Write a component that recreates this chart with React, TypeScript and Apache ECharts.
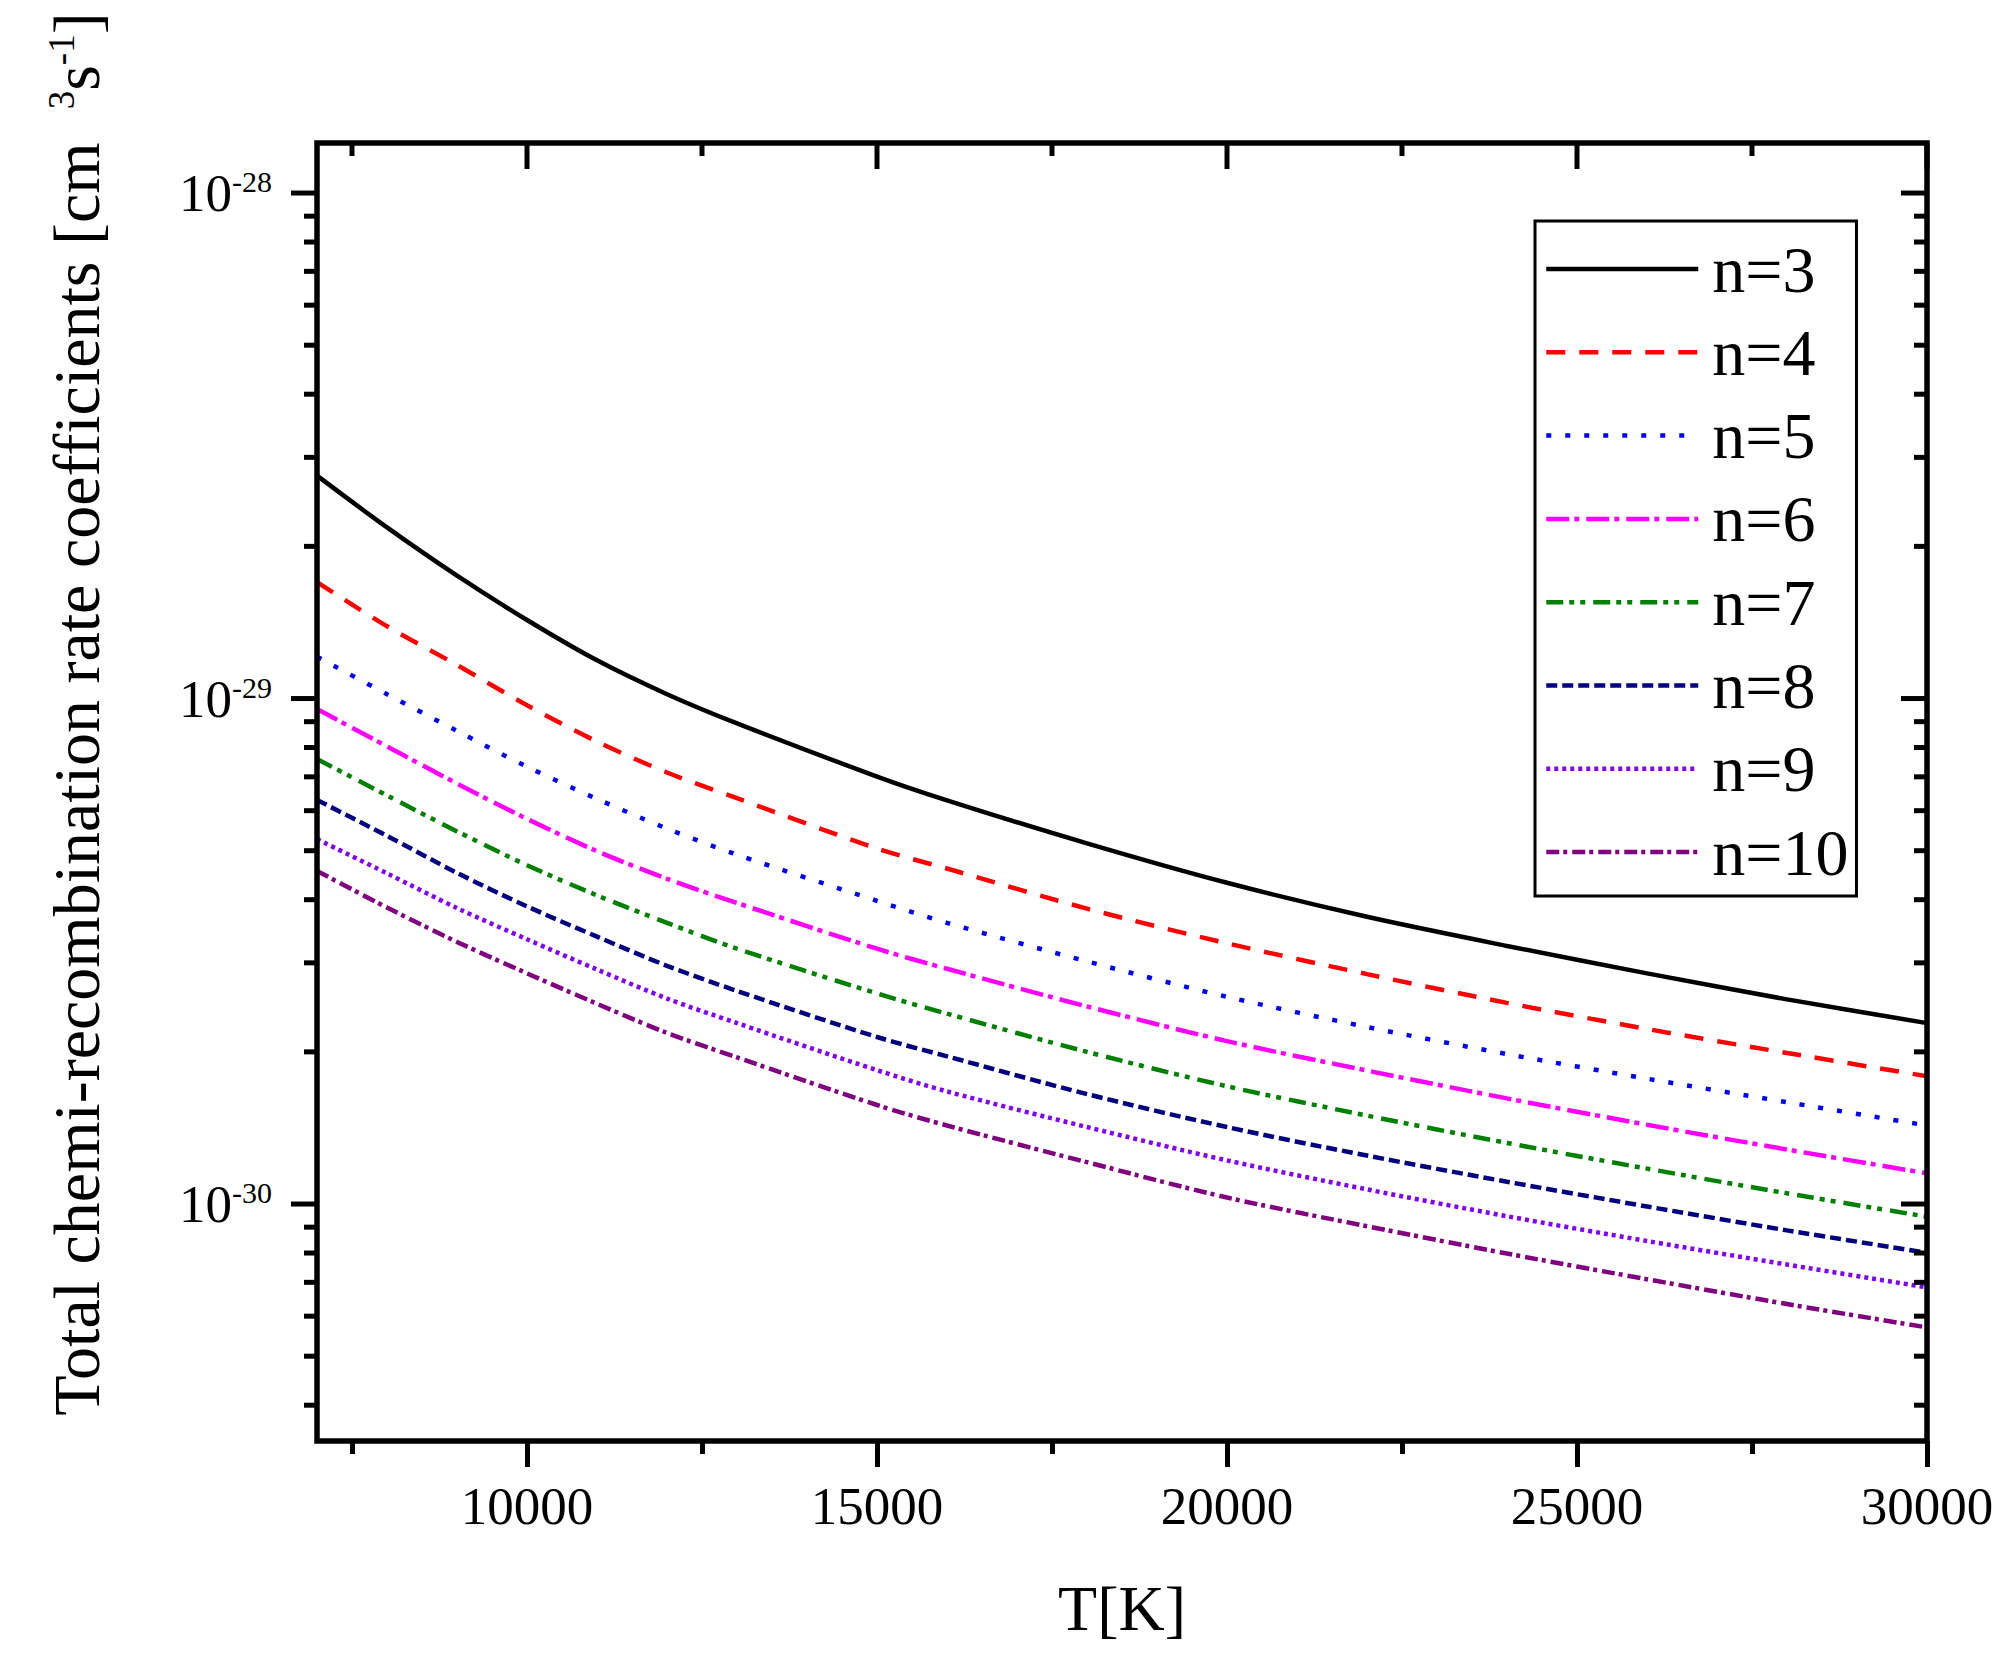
import React, { useEffect, useRef } from 'react';
import * as echarts from 'echarts';

// Temperatures (K)
const temperatures = [7000, 8000, 9000, 10000, 11000, 12000, 13000, 15000, 16000, 18000, 20000, 22000, 24000, 26000, 28000, 30000];

// Total chemi-recombination rate coefficients [cm^3 s^-1]
const n3 = [2.76e-29, 2.18e-29, 1.75e-29, 1.43e-29, 1.19e-29, 1.02e-29, 8.93e-30, 7.01e-30, 6.29e-30, 5.17e-30, 4.32e-30, 3.70e-30, 3.24e-30, 2.86e-30, 2.54e-30, 2.28e-30];
const n4 = [1.70e-29, 1.39e-29, 1.165e-29, 9.70e-30, 8.22e-30, 7.14e-30, 6.35e-30, 5.05e-30, 4.61e-30, 3.84e-30, 3.28e-30, 2.85e-30, 2.50e-30, 2.22e-30, 1.99e-30, 1.79e-30];
const n5 = [1.21e-29, 1.02e-29, 8.63e-30, 7.33e-30, 6.33e-30, 5.53e-30, 4.91e-30, 3.98e-30, 3.60e-30, 3.02e-30, 2.57e-30, 2.24e-30, 1.98e-30, 1.77e-30, 1.59e-30, 1.43e-30];
const n6 = [9.53e-30, 8.04e-30, 6.79e-30, 5.78e-30, 4.99e-30, 4.40e-30, 3.94e-30, 3.20e-30, 2.92e-30, 2.46e-30, 2.10e-30, 1.837e-30, 1.618e-30, 1.435e-30, 1.282e-30, 1.15e-30];
const n7 = [7.59e-30, 6.43e-30, 5.46e-30, 4.68e-30, 4.08e-30, 3.60e-30, 3.20e-30, 2.61e-30, 2.38e-30, 2.00e-30, 1.71e-30, 1.496e-30, 1.321e-30, 1.175e-30, 1.05e-30, 9.44e-31];
const n8 = [6.30e-30, 5.35e-30, 4.52e-30, 3.88e-30, 3.38e-30, 2.96e-30, 2.64e-30, 2.14e-30, 1.96e-30, 1.65e-30, 1.42e-30, 1.247e-30, 1.107e-30, 9.89e-31, 8.87e-31, 8.01e-31];
const n9 = [5.27e-30, 4.51e-30, 3.85e-30, 3.34e-30, 2.91e-30, 2.55e-30, 2.28e-30, 1.84e-30, 1.67e-30, 1.42e-30, 1.22e-30, 1.069e-30, 9.46e-31, 8.45e-31, 7.59e-31, 6.84e-31];
const n10 = [4.56e-30, 3.86e-30, 3.30e-30, 2.86e-30, 2.49e-30, 2.18e-30, 1.95e-30, 1.57e-30, 1.43e-30, 1.21e-30, 1.03e-30, 9.04e-31, 7.98e-31, 7.10e-31, 6.34e-31, 5.70e-31];

const seriesNames = ['n=3', 'n=4', 'n=5', 'n=6', 'n=7', 'n=8', 'n=9', 'n=10'];
const seriesValues = [n3, n4, n5, n6, n7, n8, n9, n10];
const seriesColors = ['#000000', '#FF0000', '#0000FF', '#FF00FF', '#008000', '#000080', '#8000FF', '#800080'];
const seriesDashes: any[] = [
  'solid',
  [19, 14],
  [5, 14],
  [23, 5, 5, 7],
  [17, 6, 5, 6, 5, 8],
  [11, 5],
  [4, 4],
  [13, 4, 4, 5],
];

// Axis ranges and ticks
const xMin = 7000;
const xMax = 30000;
const xMajorTicks = [10000, 15000, 20000, 25000, 30000];
const xMinorTicks = [7500, 12500, 17500, 22500, 27500];
const yMin = 3.398e-31;
const yMax = 1.256e-28;
const yTickExponents = [-30, -29, -28];
const yMajorTicks = yTickExponents.map((e) => Number('1e' + e));
const yMinorMantissas = [2, 3, 4, 5, 6, 7, 8, 9];
const yMinorExponents = [-31, -30, -29, -28];
const yMinorTicks: number[] = [];
yMinorExponents.forEach((e) => yMinorMantissas.forEach((m) => {
  const v = Number(m + 'e' + e);
  if (v >= yMin && v <= yMax) yMinorTicks.push(v);
}));

const FONT = '"Liberation Serif", "Times New Roman", serif';

// kind: 0 = y major, 1 = y minor, 2 = top x major, 3 = top x minor
const frameTicks: number[][] = [
  ...yMajorTicks.map((v) => [xMin, v, 0]),
  ...yMinorTicks.map((v) => [xMin, v, 1]),
  ...xMajorTicks.map((x) => [x, yMax, 2]),
  ...xMinorTicks.map((x) => [x, yMax, 3]),
];

export default function App() {
  const ref = useRef<HTMLDivElement>(null);
  useEffect(() => {
    if (!ref.current) return;
    const chart = echarts.init(ref.current, undefined, { renderer: 'svg' });
    const tickStyle = { color: '#000', width: 5 };
    const majorLen = 26;
    const minorLen = 13;
    const tickDraw = { stroke: '#000', lineWidth: 5 };

    const xBase = { type: 'value', min: xMin, max: xMax, splitLine: { show: false }, gridIndex: 0 };

    const renderTick = (params: any, api: any) => {
      const kind = api.value(2);
      if (kind <= 1) {
        const v = api.value(1);
        const pL = api.coord([xMin, v]);
        const pR = api.coord([xMax, v]);
        const len = kind === 0 ? majorLen : minorLen;
        const children: any[] = [
          { type: 'line', shape: { x1: pL[0] - len, y1: pL[1], x2: pL[0], y2: pL[1] }, style: tickDraw },
          { type: 'line', shape: { x1: pR[0] - len, y1: pR[1], x2: pR[0], y2: pR[1] }, style: tickDraw },
        ];
        if (kind === 0) {
          const exp = Math.round(Math.log10(v));
          children.push({
            type: 'text',
            x: pL[0] - 45,
            y: pL[1],
            style: {
              text: '{b|10}{s|' + exp + '}',
              align: 'right',
              verticalAlign: 'middle',
              fill: '#000',
              fontFamily: FONT,
              fontSize: 53,
              rich: {
                b: { fontFamily: FONT, fontSize: 53, lineHeight: 53, fill: '#000' },
                s: { fontFamily: FONT, fontSize: 30, lineHeight: 18, verticalAlign: 'top', fill: '#000' },
              },
            },
          });
        }
        return { type: 'group', children };
      }
      const x = api.value(0);
      const p = api.coord([x, yMax]);
      const len = kind === 2 ? majorLen : minorLen;
      return { type: 'line', shape: { x1: p[0], y1: p[1], x2: p[0], y2: p[1] + len }, style: tickDraw };
    };

    const option: any = {
      animation: false,
      backgroundColor: '#fff',
      grid: {
        left: 317, top: 143, width: 1610, height: 1298, containLabel: false,
        show: true, borderColor: '#000', borderWidth: 5.5, backgroundColor: 'transparent', z: 5,
      },
      xAxis: [
        {
          ...xBase, position: 'bottom',
          axisLine: { show: false },
          axisTick: { show: true, inside: false, length: majorLen, lineStyle: tickStyle, customValues: xMajorTicks },
          axisLabel: {
            show: true, customValues: xMajorTicks, margin: 38, fontFamily: FONT, fontSize: 53, color: '#000',
            formatter: (v: number) => String(v),
          },
          name: 'T[K]', nameLocation: 'middle', nameGap: 135,
          nameTextStyle: { fontFamily: FONT, fontSize: 64, color: '#000' },
        },
        {
          ...xBase, position: 'bottom',
          axisLine: { show: false },
          axisTick: { show: true, inside: false, length: minorLen, lineStyle: tickStyle, customValues: xMinorTicks },
          axisLabel: { show: false },
        },
      ],
      yAxis: [
        {
          type: 'log', min: yMin, max: yMax, logBase: 10, position: 'left', gridIndex: 0,
          splitLine: { show: false },
          axisLine: { show: false },
          axisTick: { show: false },
          axisLabel: { show: false },
          minorTick: { show: false },
        },
      ],
      legend: {
        orient: 'vertical',
        left: 1535,
        top: 221,
        padding: [15, 8, 11, 9],
        itemWidth: 152,
        itemHeight: 6,
        itemGap: 17.3,
        borderColor: '#000',
        borderWidth: 3,
        backgroundColor: '#fff',
        itemStyle: { opacity: 0 },
        lineStyle: { width: 4.5 },
        textStyle: { fontFamily: FONT, fontSize: 66, lineHeight: 66, color: '#000', padding: [0, 0, 0, 9] },
        data: seriesNames,
        z: 6,
      },
      graphic: [
        {
          type: 'text',
          x: 76,
          y: 714,
          rotation: Math.PI / 2,
          style: {
            text: 'Total chemi-recombination rate coefficients [cm  {s|3}s{s|-1}]',
            fontFamily: FONT,
            fontSize: 66,
            fill: '#000',
            align: 'center',
            verticalAlign: 'middle',
            lineHeight: 66,
            rich: {
              s: { fontFamily: FONT, fontSize: 37, fill: '#000', lineHeight: 20, verticalAlign: 'top' },
            },
          },
        },
      ],
      series: [
        ...seriesNames.map((name, i) => ({
          name,
          type: 'line',
          xAxisIndex: 0,
          yAxisIndex: 0,
          data: temperatures.map((t, j) => [t, seriesValues[i][j]]),
          smooth: 0.3,
          symbol: 'none',
          showSymbol: false,
          lineStyle: { color: seriesColors[i], width: 4.5, type: seriesDashes[i], cap: 'butt' },
          itemStyle: { color: seriesColors[i] },
          z: 3,
        })),
        {
          name: 'frameTicks',
          type: 'custom',
          xAxisIndex: 0,
          yAxisIndex: 0,
          data: frameTicks,
          encode: { x: 0, y: 1 },
          renderItem: renderTick,
          clip: false,
          silent: true,
          z: 10,
        },
      ],
    };
    chart.setOption(option);
    return () => chart.dispose();
  }, []);
  return (
    <div
      ref={ref}
      style={{ position: 'absolute', left: 0, top: 0, width: 2012, height: 1668, background: '#fff' }}
    />
  );
}
